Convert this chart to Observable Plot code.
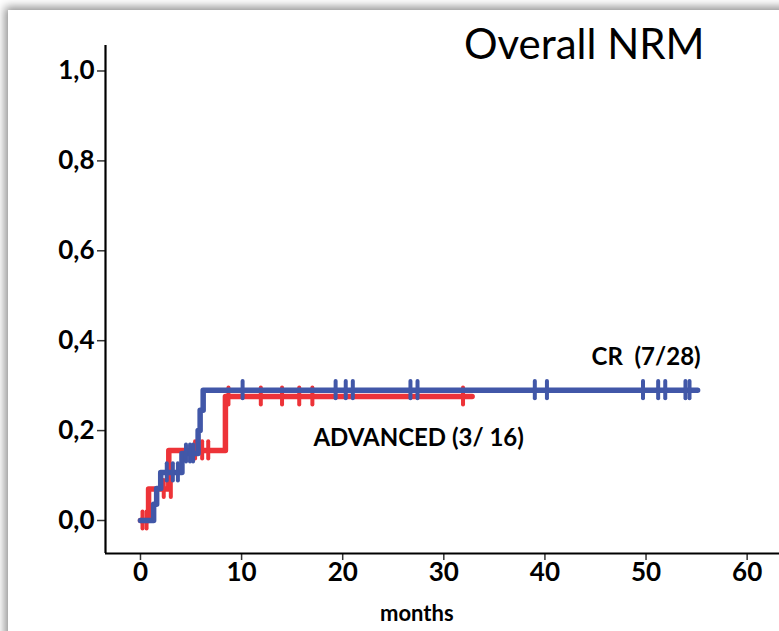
<!DOCTYPE html>
<html>
<head>
<meta charset="utf-8">
<script src="https://cdn.jsdelivr.net/npm/d3@7"></script>
<script src="https://cdn.jsdelivr.net/npm/@observablehq/plot@0.6"></script>
<style>
  html, body { margin: 0; padding: 0; background: #ffffff; overflow: hidden; }
  body { width: 779px; height: 631px; position: relative; font-family: Lato, "Open Sans", sans-serif; }
  #frame { position: absolute; left: 8px; top: 10px; width: 820px; height: 680px; background: #fff;
           box-shadow: 0 0 9px 3px rgba(0,0,0,0.45); }
  #chart { position: absolute; left: 0; top: 0; }
  #title { position: absolute; left: 464px; top: 22px; font-size: 42px; line-height: 1; font-weight: 400; color: #000; white-space: nowrap; }
  #xlabel { position: absolute; left: 380px; top: 602px; font-size: 22px; line-height: 1; font-weight: 700; color: #000; }
  svg text { white-space: pre; }
</style>
</head>
<body>
<div id="frame"></div>
<div id="chart"></div>
<div id="title">Overall NRM</div>
<div id="xlabel">months</div>
<script>
// Step curves (time in months, cumulative incidence)
const crTimes   = [0, 1.3, 1.6, 2.0, 4.1, 5.7, 5.9, 6.2, 55.1];
const crValues  = [0, 0.036, 0.071, 0.107, 0.149, 0.20, 0.245, 0.29, 0.29];
const advTimes  = [0, 0.8, 2.8, 8.4, 32.8];
const advValues = [0, 0.07, 0.156, 0.276, 0.276];

// Censoring marks
const crCensorTimes  = [2.6, 3.2, 3.7, 4.5, 4.9, 5.2, 10.1, 19.3, 20.3, 21.0, 26.7, 27.4, 39.0, 40.2, 49.7, 51.2, 51.9, 53.9, 54.3];
const crCensorValues = [0.107, 0.107, 0.107, 0.149, 0.149, 0.149, 0.29, 0.29, 0.29, 0.29, 0.29, 0.29, 0.29, 0.29, 0.29, 0.29, 0.29, 0.29, 0.29];
const advCensorTimes  = [0.2, 0.6, 2.3, 3.0, 5.4, 6.1, 6.7, 8.7, 11.9, 14.0, 15.7, 17.0, 31.9];
const advCensorValues = [0, 0, 0.07, 0.07, 0.156, 0.156, 0.156, 0.276, 0.276, 0.276, 0.276, 0.276, 0.276];

// Labels
const labelTexts  = ["CR  (7/28)", "ADVANCED (3/ 16)"];
const labelTimes  = [55.4, 17.1];
const labelValues = [0.363, 0.182];
const labelAnchors = ["end", "start"];

const xTicks = [0, 10, 20, 30, 40, 50, 60];
const yTicks = [0, 0.2, 0.4, 0.6, 0.8, 1.0];

const BLUE = "#4157a8";
const RED = "#ed3338";

const cr = crTimes.map((t, i) => ({t, v: crValues[i]}));
const adv = advTimes.map((t, i) => ({t, v: advValues[i]}));
const crC = crCensorTimes.map((t, i) => ({t, v: crCensorValues[i]}));
const advC = advCensorTimes.map((t, i) => ({t, v: advCensorValues[i]}));
const labels = labelTexts.map((text, i) => ({text, t: labelTimes[i], v: labelValues[i], a: labelAnchors[i]}));

const xMin = -3.46, xMax = 63.2, yMin = -0.0734, yMax = 1.0567;
const h = 0.019;

const chart = Plot.plot({
  width: 779,
  height: 631,
  marginLeft: 105,
  marginRight: 0,
  marginTop: 45,
  marginBottom: 78,
  style: {fontFamily: "Lato, 'Open Sans', sans-serif", background: "transparent", color: "#000"},
  x: {domain: [xMin, xMax]},
  y: {domain: [yMin, yMax]},
  marks: [
    Plot.axisX({ticks: xTicks, tickSize: 7, tickPadding: 2, tickFormat: d => String(d), fontSize: 26, fontWeight: 700, label: null, stroke: "#333", strokeWidth: 1.5}),
    Plot.axisY({ticks: yTicks, tickSize: 8, tickPadding: 3, tickFormat: d => d.toFixed(1).replace(".", ","), fontSize: 26, fontWeight: 700, label: null, stroke: "#333", strokeWidth: 1.5}),
    Plot.ruleX([xMin], {stroke: "#000", strokeWidth: 2.2}),
    Plot.ruleY([yMin], {stroke: "#000", strokeWidth: 2.2}),
    Plot.line(adv, {x: "t", y: "v", curve: "step-after", stroke: RED, strokeWidth: 5.5}),
    Plot.ruleX(advC, {x: "t", y1: d => d.v - h, y2: d => d.v + h, stroke: RED, strokeWidth: 4, strokeLinecap: "round"}),
    Plot.line(cr, {x: "t", y: "v", curve: "step-after", stroke: BLUE, strokeWidth: 5.5}),
    Plot.ruleX(crC, {x: "t", y1: d => d.v - h, y2: d => d.v + h, stroke: BLUE, strokeWidth: 4, strokeLinecap: "round"}),
    Plot.text(labels, {filter: d => d.a === "end", x: "t", y: "v", text: "text", textAnchor: "end", fontSize: 24, fontWeight: 700, fill: "#000"}),
    Plot.text(labels, {filter: d => d.a === "start", x: "t", y: "v", text: "text", textAnchor: "start", fontSize: 24, fontWeight: 700, fill: "#000"})
  ]
});
document.getElementById("chart").appendChild(chart);
</script>
</body>
</html>
